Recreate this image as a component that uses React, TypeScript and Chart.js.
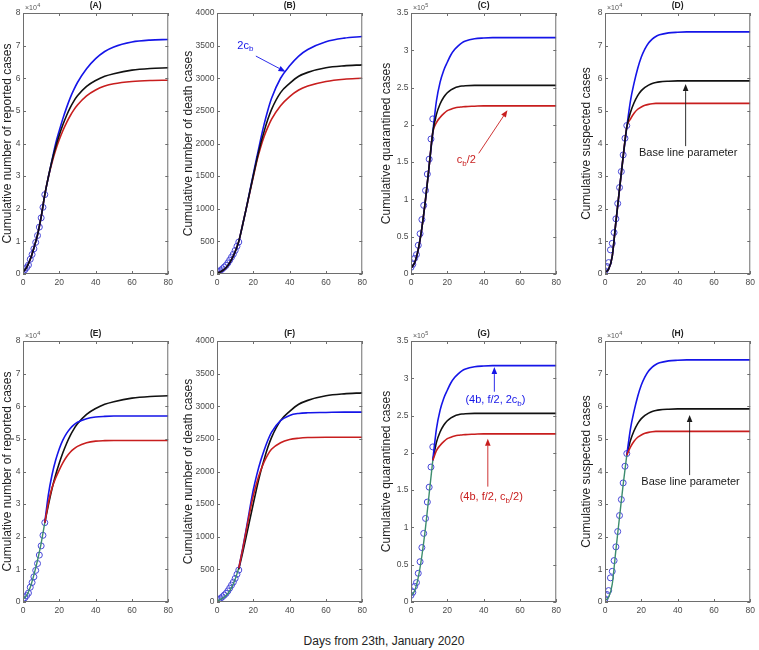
import React, { useEffect, useRef } from "react";
import { Chart, registerables } from "chart.js";
Chart.register(...registerables);

// ---------- data ----------
const days = [0, 2, 4, 6, 8, 10, 12, 14, 16, 18, 20, 22, 24, 26, 28, 30, 35, 40, 45, 50, 60, 70, 80];
const earlyDays = [0, 2, 4, 6, 8, 10, 12];
const lateDays = [12, 14, 16, 18, 20, 22, 24, 26, 28, 30, 35, 40, 45, 50, 60, 70, 80];
const obsDays = [0, 1, 2, 3, 4, 5, 6, 7, 8, 9, 10, 11, 12];
const xTicks = [0, 20, 40, 60, 80];

const reportedObs = [830, 1287, 1975, 2744, 4515, 5974, 7711, 9692, 11791, 14380, 17205, 20438, 24324];
const deathObs = [25, 41, 56, 80, 106, 132, 170, 213, 259, 304, 361, 425, 490];
const quarantinedObs = [9000, 13000, 21000, 26000, 38500, 54000, 73000, 92000, 112000, 134000, 154000, 181000, 208000];
const suspectedObs = [1000, 2300, 3500, 7400, 9400, 12700, 16900, 21600, 26500, 31400, 36500, 41600, 45500];

// baseline parameter curves (black), over `days`
const reportedBase = [500, 2000, 4500, 8000, 12000, 17500, 24300, 29800, 34800, 39000, 42600, 45800, 48600, 51000, 53000, 54600, 57500, 59300, 60600, 61400, 62500, 63000, 63200];
const deathBase = [15, 35, 70, 130, 220, 340, 500, 740, 990, 1250, 1510, 1760, 1990, 2190, 2370, 2520, 2780, 2920, 3030, 3090, 3160, 3190, 3205];
const quarantinedBase = [8000, 15000, 33000, 62000, 100000, 145000, 190000, 214000, 228000, 237000, 243000, 247000, 249500, 251000, 252000, 252500, 253000, 253000, 253000, 253000, 253000, 253000, 253000];
const suspectedBase = [500, 1500, 5500, 16000, 26000, 36000, 45000, 49500, 52500, 54700, 56200, 57200, 57900, 58400, 58700, 58900, 59100, 59200, 59200, 59200, 59200, 59200, 59200];

// scenario curves over `lateDays`
const reportedHighC = [24300, 29800, 35000, 40000, 44000, 47700, 51000, 54000, 56500, 58700, 62900, 66000, 68200, 69600, 71100, 71700, 71900];
const reportedLowC = [24300, 29800, 34200, 38000, 41200, 44000, 46400, 48500, 50300, 51800, 54600, 56400, 57600, 58300, 59000, 59300, 59400];
const deathHighC = [500, 740, 990, 1260, 1530, 1800, 2060, 2300, 2510, 2690, 3000, 3190, 3340, 3440, 3560, 3615, 3640];
const deathLowC = [500, 740, 990, 1240, 1490, 1740, 1940, 2110, 2250, 2370, 2580, 2720, 2820, 2880, 2950, 2985, 3000];
const quarantinedHighC = [190000, 232000, 257000, 273000, 284000, 294000, 301000, 306000, 310000, 312500, 315500, 316500, 317000, 317000, 317000, 317000, 317000];
const quarantinedLowC = [190000, 203000, 210000, 215000, 219000, 221000, 222500, 223500, 224000, 224500, 225000, 225500, 225500, 225500, 225500, 225500, 225500];
const suspectedHighC = [45000, 53000, 58500, 63000, 66500, 69000, 70800, 72000, 72800, 73300, 73900, 74100, 74200, 74200, 74200, 74200, 74200];
const suspectedLowC = [45000, 47500, 49300, 50500, 51200, 51700, 52000, 52200, 52300, 52300, 52300, 52300, 52300, 52300, 52300, 52300, 52300];

// combined scenarios (4b, f/2, 2cb) and (4b, f/2, cb/2)
const reportedCombHigh = [24300, 33000, 39000, 43500, 47000, 49700, 51700, 53200, 54300, 55100, 56200, 56700, 56900, 57000, 57000, 57000, 57000];
const reportedCombLow = [24300, 30500, 35000, 38000, 40500, 42700, 44500, 45900, 46900, 47700, 48800, 49300, 49450, 49500, 49500, 49500, 49500];
const deathCombHigh = [520, 800, 1100, 1420, 1720, 1960, 2160, 2330, 2480, 2600, 2780, 2860, 2890, 2900, 2905, 2910, 2910];
const deathCombLow = [520, 790, 1080, 1370, 1630, 1840, 2010, 2150, 2260, 2340, 2440, 2490, 2510, 2520, 2525, 2525, 2525];

// fitted curves over `earlyDays` (green)
const reportedFit = [800, 2000, 4500, 8300, 12800, 18000, 24300];
const deathFit = [15, 40, 75, 130, 220, 350, 520];
const quarantinedFit = [8000, 15000, 33000, 62000, 100000, 145000, 190000];
const suspectedFit = [500, 1500, 5500, 16000, 26000, 36000, 45000];

// ---------- styles ----------
const FONT = '"Liberation Sans", Arial, Helvetica, sans-serif';
const BLUE = "#1515e8";
const BLACK = "#111111";
const RED = "#c81e1e";
const GREEN = "#3c8c6e";
const CIRCLE = "#4848d8";
const COLS = [23, 217, 411, 605];
const ROWS = [13, 341];
const PW = 148;
const PH = 261;
const PAD_L = 40;
const PAD_T = 14;
const PAD_R = 6;
const PAD_B = 24;
const Y_TITLE_OFF = [15, 28, 24, 18];

type Part = { t: string; sub?: boolean };
type Note =
  | { kind: "text"; x: number; y: number; parts: Part[]; color: string; align: "left" | "center" }
  | { kind: "arrow"; x1: number; y1: number; x2: number; y2: number; color: string };

const pts = (xs: number[], ys: number[]) => xs.map((x, i) => ({ x, y: ys[i] }));
const joinTop = (base: number[], late: number[]) => days.map((d, i) => ({ x: d, y: i < 6 ? base[i] : late[i - 6] }));

function lineDs(data: any[], color: string, width = 1.6) {
  return {
    data,
    borderColor: color,
    borderWidth: width,
    pointRadius: 0,
    fill: false,
    cubicInterpolationMode: "monotone",
  };
}
function obsDs(data: any[]) {
  return {
    data,
    showLine: false,
    pointStyle: "circle",
    pointRadius: 3,
    pointBorderWidth: 1,
    pointBorderColor: CIRCLE,
    pointBackgroundColor: "rgba(0,0,0,0)",
  };
}

function makePanels() {
  const top = (letter: string, col: number, base: number[], high: number[], low: number[], obs: number[]) => [
    lineDs(pts(days, base), BLACK),
    lineDs(joinTop(base, high), BLUE),
    lineDs(joinTop(base, low), RED),
    obsDs(pts(obsDays, obs)),
  ];
  const bottom = (base: number[], high: number[], low: number[], fit: number[], obs: number[]) => [
    lineDs(pts(lateDays, low), RED),
    lineDs(pts(lateDays, high), BLUE),
    lineDs(pts(lateDays, base.slice(6)), BLACK),
    lineDs(pts(earlyDays, fit), GREEN, 1.4),
    obsDs(pts(obsDays, obs)),
  ];
  const rep = { yMax: 80000, yStep: 10000, div: 1e4, expo: "4", yTitle: "Cumulative number of reported cases" };
  const dea = { yMax: 4000, yStep: 500, div: 1, expo: "", yTitle: "Cumulative number of death cases" };
  const qua = { yMax: 350000, yStep: 50000, div: 1e5, expo: "5", yTitle: "Cumulative quarantined cases" };
  const sus = { yMax: 80000, yStep: 10000, div: 1e4, expo: "4", yTitle: "Cumulative suspected cases" };

  const notesB: Note[] = [
    { kind: "text", x: 11.2, y: 3510, parts: [{ t: "2c" }, { t: "b", sub: true }], color: BLUE, align: "left" },
    { kind: "arrow", x1: 21.4, y1: 3340, x2: 37.7, y2: 3100, color: BLUE },
  ];
  const notesC: Note[] = [
    { kind: "text", x: 25.2, y: 153700, parts: [{ t: "c" }, { t: "b", sub: true }, { t: "/2" }], color: RED, align: "left" },
    { kind: "arrow", x1: 37.3, y1: 161800, x2: 53.1, y2: 219600, color: RED },
  ];
  const notesD: Note[] = [
    { kind: "text", x: 18.7, y: 37400, parts: [{ t: "Base line parameter" }], color: "#1a1a1a", align: "left" },
    { kind: "arrow", x1: 44.4, y1: 39200, x2: 44.4, y2: 58200, color: "#1a1a1a" },
  ];
  const notesG: Note[] = [
    { kind: "text", x: 46.5, y: 272000, parts: [{ t: "(4b, f/2, 2c" }, { t: "b", sub: true }, { t: ")" }], color: BLUE, align: "center" },
    { kind: "arrow", x1: 45.9, y1: 282000, x2: 45.9, y2: 315000, color: BLUE },
    { kind: "text", x: 44.2, y: 142000, parts: [{ t: "(4b, f/2, c" }, { t: "b", sub: true }, { t: "/2)" }], color: RED, align: "center" },
    { kind: "arrow", x1: 42.3, y1: 154700, x2: 42.3, y2: 219000, color: RED },
  ];
  const notesH: Note[] = [
    { kind: "text", x: 20.0, y: 37200, parts: [{ t: "Base line parameter" }], color: "#1a1a1a", align: "left" },
    { kind: "arrow", x1: 46.6, y1: 38900, x2: 46.6, y2: 57300, color: "#1a1a1a" },
  ];

  return [
    { letter: "A", col: 0, row: 0, ...rep, datasets: top("A", 0, reportedBase, reportedHighC, reportedLowC, reportedObs), notes: [] as Note[] },
    { letter: "B", col: 1, row: 0, ...dea, datasets: top("B", 1, deathBase, deathHighC, deathLowC, deathObs), notes: notesB },
    { letter: "C", col: 2, row: 0, ...qua, datasets: top("C", 2, quarantinedBase, quarantinedHighC, quarantinedLowC, quarantinedObs), notes: notesC },
    { letter: "D", col: 3, row: 0, ...sus, datasets: top("D", 3, suspectedBase, suspectedHighC, suspectedLowC, suspectedObs), notes: notesD },
    { letter: "E", col: 0, row: 1, ...rep, datasets: bottom(reportedBase, reportedCombHigh, reportedCombLow, reportedFit, reportedObs), notes: [] as Note[] },
    { letter: "F", col: 1, row: 1, ...dea, datasets: bottom(deathBase, deathCombHigh, deathCombLow, deathFit, deathObs), notes: [] as Note[] },
    { letter: "G", col: 2, row: 1, ...qua, datasets: bottom(quarantinedBase, quarantinedHighC, quarantinedLowC, quarantinedFit, quarantinedObs), notes: notesG },
    { letter: "H", col: 3, row: 1, ...sus, datasets: bottom(suspectedBase, suspectedHighC, suspectedLowC, suspectedFit, suspectedObs), notes: notesH },
  ];
}

const decorPlugin = {
  id: "decor",
  afterDraw(chart: any, _args: any, opts: any) {
    const { ctx, chartArea: a, scales } = chart;
    const xs = scales.x;
    const ys = scales.y;
    ctx.save();
    // axes box
    ctx.strokeStyle = "#6e6e6e";
    ctx.lineWidth = 1;
    ctx.strokeRect(a.left + 0.5, a.top + 0.5, a.right - a.left - 1, a.bottom - a.top - 1);
    // inner ticks
    ctx.beginPath();
    xTicks.forEach((v) => {
      const p = Math.round(xs.getPixelForValue(v)) + 0.5;
      ctx.moveTo(p, a.bottom);
      ctx.lineTo(p, a.bottom - 3);
      ctx.moveTo(p, a.top);
      ctx.lineTo(p, a.top + 3);
    });
    for (let v = 0; v <= opts.yMax + 1e-9; v += opts.yStep) {
      const p = Math.round(ys.getPixelForValue(v)) + 0.5;
      ctx.moveTo(a.left, p);
      ctx.lineTo(a.left + 3, p);
      ctx.moveTo(a.right, p);
      ctx.lineTo(a.right - 3, p);
    }
    ctx.stroke();

    // y title
    ctx.fillStyle = "#1e1e1e";
    ctx.font = `12px ${FONT}`;
    ctx.textAlign = "center";
    ctx.textBaseline = "middle";
    ctx.save();
    ctx.translate(a.left - opts.yTitleOff, (a.top + a.bottom) / 2);
    ctx.rotate(-Math.PI / 2);
    ctx.fillText(opts.yTitle, 0, 0);
    ctx.restore();

    // panel title
    ctx.font = `bold 8.5px ${FONT}`;
    ctx.fillStyle = "#222";
    ctx.fillText(`(${opts.letter})`, (a.left + a.right) / 2, a.top - 7);

    // exponent
    if (opts.expo) {
      ctx.fillStyle = "#555";
      ctx.textAlign = "left";
      ctx.textBaseline = "alphabetic";
      ctx.font = `7px ${FONT}`;
      ctx.fillText("\u00d710", a.left + 2, a.top - 3);
      const w = ctx.measureText("\u00d710").width;
      ctx.font = `5.5px ${FONT}`;
      ctx.fillText(opts.expo, a.left + 2 + w + 0.5, a.top - 6.5);
    }

    // annotations
    (opts.notes as Note[]).forEach((n) => {
      if (n.kind === "arrow") {
        const x1 = xs.getPixelForValue(n.x1), y1 = ys.getPixelForValue(n.y1);
        const x2 = xs.getPixelForValue(n.x2), y2 = ys.getPixelForValue(n.y2);
        const ang = Math.atan2(y2 - y1, x2 - x1);
        const hl = 7, hw = 2.8;
        const bx = x2 - hl * Math.cos(ang), by = y2 - hl * Math.sin(ang);
        ctx.strokeStyle = n.color;
        ctx.fillStyle = n.color;
        ctx.lineWidth = 0.9;
        ctx.beginPath();
        ctx.moveTo(x1, y1);
        ctx.lineTo(bx, by);
        ctx.stroke();
        ctx.beginPath();
        ctx.moveTo(x2, y2);
        ctx.lineTo(bx + hw * Math.sin(ang), by - hw * Math.cos(ang));
        ctx.lineTo(bx - hw * Math.sin(ang), by + hw * Math.cos(ang));
        ctx.closePath();
        ctx.fill();
      } else {
        const px = xs.getPixelForValue(n.x), py = ys.getPixelForValue(n.y);
        const mainF = `11px ${FONT}`, subF = `8px ${FONT}`;
        let total = 0;
        const widths = n.parts.map((p) => {
          ctx.font = p.sub ? subF : mainF;
          const w = ctx.measureText(p.t).width;
          total += w;
          return w;
        });
        let cx = n.align === "center" ? px - total / 2 : px;
        ctx.fillStyle = n.color;
        ctx.textAlign = "left";
        ctx.textBaseline = "alphabetic";
        n.parts.forEach((p, i) => {
          ctx.font = p.sub ? subF : mainF;
          ctx.fillText(p.t, cx, p.sub ? py + 6.5 : py + 4);
          cx += widths[i];
        });
      }
    });
    ctx.restore();
  },
};

const fmt = (v: number) => String(Number(v.toFixed(3)));

function Panel({ p }: { p: any }) {
  const ref = useRef<HTMLCanvasElement | null>(null);
  const cw = PW + PAD_L + PAD_R;
  const ch = PH + PAD_T + PAD_B;
  const left = COLS[p.col] - PAD_L;
  const top = ROWS[p.row] - PAD_T;
  useEffect(() => {
    if (!ref.current) return;
    const chart = new Chart(ref.current, {
      type: "line",
      data: { datasets: p.datasets },
      options: {
        responsive: false,
        devicePixelRatio: 1,
        animation: false,
        parsing: true,
        layout: { padding: { left: 0, top: PAD_T, right: PAD_R, bottom: 0 } },
        plugins: {
          legend: { display: false },
          tooltip: { enabled: false },
          decor: {
            letter: p.letter,
            yTitle: p.yTitle,
            yTitleOff: Y_TITLE_OFF[p.col],
            expo: p.expo,
            yMax: p.yMax,
            yStep: p.yStep,
            notes: p.notes,
          },
        } as any,
        scales: {
          x: {
            type: "linear",
            min: 0,
            max: 80,
            afterFit: (s: any) => {
              s.height = PAD_B;
            },
            afterBuildTicks: (s: any) => {
              s.ticks = xTicks.map((v) => ({ value: v }));
            },
            grid: { display: false, drawTicks: false },
            border: { display: false },
            ticks: {
              autoSkip: false,
              maxRotation: 0,
              padding: 4,
              color: "#4a4a4a",
              font: { size: 8.5, family: FONT },
              callback: (v: any) => fmt(Number(v)),
            },
          },
          y: {
            type: "linear",
            min: 0,
            max: p.yMax,
            afterFit: (s: any) => {
              s.width = PAD_L;
            },
            grid: { display: false, drawTicks: false },
            border: { display: false },
            ticks: {
              stepSize: p.yStep,
              autoSkip: false,
              padding: 2.5,
              color: "#4a4a4a",
              font: { size: 8.5, family: FONT },
              callback: (v: any) => fmt(Number(v) / p.div),
            },
          },
        },
      } as any,
      plugins: [decorPlugin as any],
    });
    return () => chart.destroy();
  }, []);
  return (
    <canvas
      ref={ref}
      width={cw}
      height={ch}
      style={{ position: "absolute", left, top, width: cw, height: ch }}
    />
  );
}

export default function App() {
  const panels = makePanels();
  return (
    <div
      style={{
        position: "absolute",
        left: 0,
        top: 0,
        width: 759,
        height: 650,
        background: "#ffffff",
        overflow: "hidden",
        fontFamily: FONT,
      }}
    >
      {panels.map((p) => (
        <Panel key={p.letter} p={p} />
      ))}
      <div
        style={{
          position: "absolute",
          left: 184,
          width: 400,
          top: 634,
          textAlign: "center",
          fontSize: 12,
          lineHeight: "14px",
          color: "#222",
        }}
      >
        Days from 23th, January 2020
      </div>
    </div>
  );
}
